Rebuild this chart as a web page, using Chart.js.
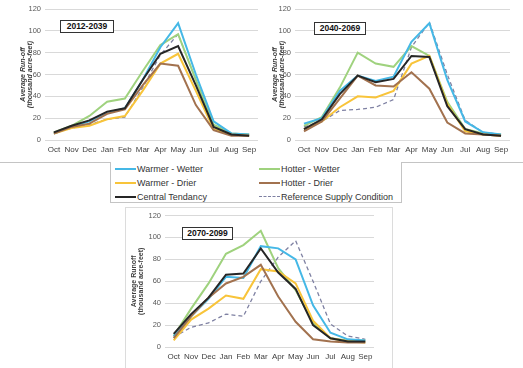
<!DOCTYPE html>
<html><head><meta charset="utf-8">
<script src="https://cdn.jsdelivr.net/npm/chart.js@4/dist/chart.umd.min.js"></script>
<style>
body{margin:0;background:#fff;width:523px;height:368px;position:relative;overflow:hidden;font-family:"Liberation Sans",Arial,sans-serif;}
.abs{position:absolute;}
canvas{position:absolute;}
.tbox{position:absolute;border:1px solid #333;background:#fff;font-weight:bold;font-size:8.5px;color:#111;text-align:center;box-sizing:border-box;}
.leg{position:absolute;font-size:9px;color:#333;line-height:10px;white-space:nowrap;}
.ll{position:absolute;height:0;}
</style></head><body>
<div class="abs" style="left:0;top:0;width:110px;height:162px;border-bottom:1px solid #c4c4c4;"></div>
<div class="abs" style="left:401px;top:0;width:122px;height:162px;border-bottom:1px solid #c4c4c4;"></div>
<div class="abs" style="left:110px;top:162px;width:290px;height:40px;border:1px solid #c4c4c4;border-top:none;"></div>
<div class="abs" style="left:125px;top:207px;width:266px;height:170px;border:1px solid #dcdcdc;"></div>

<canvas id="c1" width="262" height="160" style="left:0;top:0;"></canvas>
<canvas id="c2" width="261" height="160" style="left:262px;top:0;"></canvas>
<canvas id="c3" width="254" height="160" style="left:126px;top:207px;"></canvas>

<div class="tbox" style="left:60px;top:20px;width:54px;height:13px;line-height:11px;">2012-2039</div>
<div class="tbox" style="left:314px;top:22px;width:52px;height:13px;line-height:11px;">2040-2069</div>
<div class="tbox" style="left:182px;top:227px;width:51px;height:13px;line-height:11px;">2070-2099</div>

<div id="legend"></div>

<script>
const months = ['Oct','Nov','Dec','Jan','Feb','Mar','Apr','May','Jun','Jul','Aug','Sep'];
const yTicks = [0,20,40,60,80,100,120];
const seriesNames = ['Warmer - Wetter','Hotter - Wetter','Warmer - Drier','Hotter - Drier','Central Tendancy','Reference Supply Condition'];

// 2012-2039
const p1WarmerWetter = [6,12,17,25,29,55,85,107,60,17,6,5];
const p1HotterWetter = [7,13,22,35,38,63,87,97,55,14,6,5];
const p1WarmerDrier  = [6,11,13,19,22,45,70,79,45,10,5,4];
const p1HotterDrier  = [6,12,15,24,28,50,70,68,32,9,4,4];
const p1Central      = [7,13,18,26,29,55,79,86,50,12,5,4];
const p1Reference    = [6,11,14,19,21,48,78,97,55,13,5,5];

// 2040-2069
const p2WarmerWetter = [15,20,45,59,54,58,90,107,55,17,7,5];
const p2HotterWetter = [13,21,48,80,70,67,86,77,35,10,6,5];
const p2WarmerDrier  = [10,17,30,40,39,45,70,77,33,8,5,4];
const p2HotterDrier  = [8,17,38,59,50,49,62,47,16,6,5,4];
const p2Central      = [10,19,42,59,53,56,77,76,31,10,5,4];
const p2Reference    = [12,17,27,28,30,37,85,108,60,18,7,5];

// 2070-2099
const p3WarmerWetter = [10,28,44,64,63,92,90,80,38,13,7,6];
const p3HotterWetter = [10,35,58,85,93,106,72,52,22,8,6,6];
const p3WarmerDrier  = [6,25,35,47,44,71,69,58,24,8,5,4];
const p3HotterDrier  = [8,28,45,58,64,75,46,23,7,5,4,4];
const p3Central      = [12,30,45,66,67,90,68,53,20,8,5,5];
const p3Reference    = [9,18,22,30,28,60,82,97,60,21,10,7];

const colors = ['#45b8e6','#9fd27e','#f8c43a','#a2724f','#262626','#7e80a2'];
const widths = [2,2,2,2,2,1.3];
const dashes = [[],[],[],[],[],[4,3]];
const orders = [4,5,3,2,1,6];
const FAM = '"Liberation Sans", Arial, sans-serif';

function makeChart(id, values, g) {
  const datasets = seriesNames.map((name,i)=>({
    label:name, data:values[i], borderColor:colors[i], backgroundColor:colors[i],
    borderWidth:widths[i], borderDash:dashes[i], pointRadius:0, tension:0, fill:false, order:orders[i]
  }));
  return new Chart(document.getElementById(id), {
    type:'line',
    data:{labels:months, datasets},
    options:{
      responsive:false, animation:false, devicePixelRatio:1,
      layout:{padding:{left:0, top:g.padT, right:g.padR, bottom:0}},
      plugins:{legend:{display:false}, tooltip:{enabled:false}},
      scales:{
        x:{offset:true, grid:{display:false, drawTicks:false}, border:{display:false},
           ticks:{autoSkip:false, maxRotation:0, minRotation:0, padding:5, color:'#404040', font:{size:8, family:FAM}},
           afterFit:s=>{s.height=20;}},
        y:{min:0, max:120,
           afterBuildTicks:s=>{s.ticks = yTicks.map(v=>({value:v}));},
           grid:{color:'#d9d9d9', drawTicks:false, lineWidth:1}, border:{display:false},
           ticks:{padding:4, color:'#595959', font:{size:7.5, family:FAM}},
           title:{display:true, text:g.yTitle, color:'#404040',
                  font:{size:7, weight:'bold', style:g.italic?'italic':'normal', family:FAM, lineHeight:1.05},
                  padding:{top:g.titlePad, bottom:0}},
           afterFit:s=>{s.width=g.yW;}}
      }
    }
  });
}

makeChart('c1', [p1WarmerWetter,p1HotterWetter,p1WarmerDrier,p1HotterDrier,p1Central,p1Reference],
  {padT:9, padR:4, yW:45, titlePad:19, yTitle:['Average Run-off','(thousand acre-feet)'], italic:true});
makeChart('c2', [p2WarmerWetter,p2HotterWetter,p2WarmerDrier,p2HotterDrier,p2Central,p2Reference],
  {padT:9, padR:13, yW:33, titlePad:9, yTitle:['Average Run-off','(thousand acre-feet)'], italic:true});
makeChart('c3', [p3WarmerWetter,p3HotterWetter,p3WarmerDrier,p3HotterDrier,p3Central,p3Reference],
  {padT:8, padR:6, yW:39, titlePad:4, yTitle:['Average Runoff','(thousand acre-feet)'], italic:false});

// legend (HTML, two columns)
const legPos = [[115,169],[259,169],[115,183],[259,183],[115,197],[259,197]];
const legEl = document.getElementById('legend');
seriesNames.forEach((name,i)=>{
  const [x,y] = legPos[i];
  const line = document.createElement('div');
  line.className='ll';
  line.style.left = x+'px'; line.style.top = (y-1)+'px'; line.style.width='21px';
  line.style.borderTop = (i===5 ? '1.3px dashed ' : '2px solid ') + colors[i];
  legEl.appendChild(line);
  const t = document.createElement('div');
  t.className='leg'; t.textContent = name;
  t.style.left = (x+22)+'px'; t.style.top = (y-5)+'px';
  legEl.appendChild(t);
});
</script>
</body></html>
